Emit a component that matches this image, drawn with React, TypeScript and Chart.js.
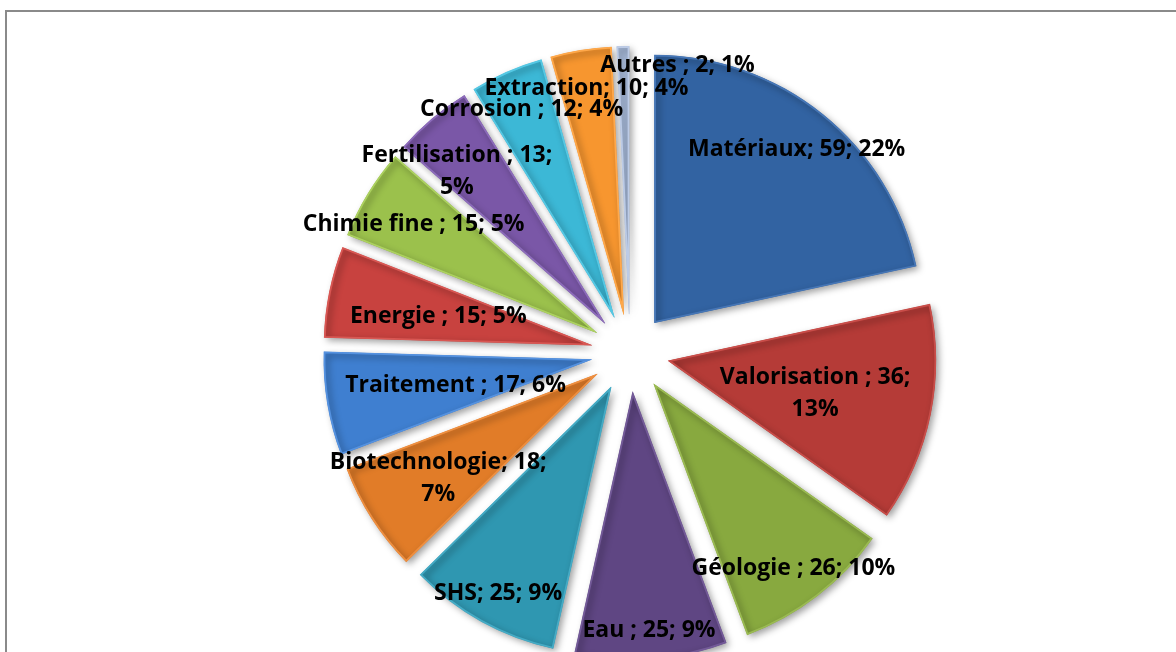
import React, { useEffect, useRef } from "react";
import { Chart, registerables } from "chart.js";

Chart.register(...registerables);

const categories = [
  "Matériaux",
  "Valorisation ",
  "Géologie ",
  "Eau ",
  "SHS",
  "Biotechnologie",
  "Traitement ",
  "Energie ",
  "Chimie fine ",
  "Fertilisation ",
  "Corrosion ",
  "Extraction",
  "Autres ",
];
const values = [59, 36, 26, 25, 25, 18, 17, 15, 15, 13, 12, 10, 2];
const percentLabels = ["22%", "13%", "10%", "9%", "9%", "7%", "6%", "5%", "5%", "5%", "4%", "4%", "1%"];
const wrapAfterValue = [false, true, false, false, false, true, false, false, false, true, false, false, false];

const colors = [
  "#3263a2",
  "#b53b37",
  "#88a93f",
  "#5f4683",
  "#2f97b1",
  "#e17c28",
  "#3f7fd0",
  "#c8423f",
  "#9bc14c",
  "#7a57a7",
  "#3cb8d6",
  "#f7962f",
  "#a9bcdc",
];
const bevelColors = [
  "#4676b6",
  "#c94d49",
  "#9aba52",
  "#735a98",
  "#45abc5",
  "#ee8f40",
  "#5592e0",
  "#d95753",
  "#acd160",
  "#8c6bba",
  "#55c8e4",
  "#ffa84a",
  "#bccbe6",
];

// label placement: distance from pie centre (fraction of radius) and angular shift (deg)
const labelDist = [0.99, 0.705, 1.0, 1.025, 1.015, 0.85, 0.66, 0.73, 0.945, 0.945, 1.005, 1.01, 1.1];
const labelShift = [0, 0, 0, 0, 0, 0, 0, 0, 0, -2.9, 0, 0, 10.6];

const RADIUS = 268;
const EXPLODE = 39;
const TEXT_DY = 3;
const FONT = "bold 23px 'Open Sans', 'Noto Sans', sans-serif";

const explodePlugin = {
  id: "explodeSlices",
  afterDatasetUpdate(chart: any) {
    const meta = chart.getDatasetMeta(0);
    meta.data.forEach((arc: any) => {
      const mid = (arc.startAngle + arc.endAngle) / 2;
      arc.x += Math.cos(mid) * EXPLODE;
      arc.y += Math.sin(mid) * EXPLODE;
    });
  },
  beforeDatasetsDraw(chart: any) {
    const ctx = chart.ctx;
    ctx.save();
    ctx.shadowColor = "rgba(0,0,0,0.38)";
    ctx.shadowBlur = 7;
    ctx.shadowOffsetX = 3;
    ctx.shadowOffsetY = 3;
  },
  afterDatasetsDraw(chart: any) {
    const ctx = chart.ctx;
    ctx.restore();
    const meta = chart.getDatasetMeta(0);
    const area = chart.chartArea;
    const cx = (area.left + area.right) / 2;
    const cy = (area.top + area.bottom) / 2;
    ctx.save();
    ctx.font = FONT;
    ctx.fillStyle = "#000";
    ctx.textAlign = "center";
    ctx.textBaseline = "middle";
    meta.data.forEach((arc: any, i: number) => {
      const mid = (arc.startAngle + arc.endAngle) / 2 + (labelShift[i] * Math.PI) / 180;
      const d = labelDist[i] * RADIUS;
      const x = cx + Math.cos(mid) * d;
      const y = cy + Math.sin(mid) * d + TEXT_DY;
      const first = `${categories[i]}; ${values[i]};`;
      if (wrapAfterValue[i]) {
        ctx.fillText(first, x, y - 16);
        ctx.fillText(percentLabels[i], x, y + 16);
      } else {
        ctx.fillText(`${first} ${percentLabels[i]}`, x, y);
      }
    });
    ctx.restore();
  },
};

export default function App() {
  const ref = useRef<HTMLCanvasElement | null>(null);
  useEffect(() => {
    if (!ref.current) return;
    const chart = new Chart(ref.current, {
      type: "pie",
      data: {
        labels: categories,
        datasets: [
          {
            data: values,
            backgroundColor: colors,
            borderColor: bevelColors,
            borderWidth: 1.5,
            borderAlign: "inner",
            radius: RADIUS,
            clip: false,
          } as any,
        ],
      },
      options: {
        responsive: false,
        animation: false,
        layout: { padding: { left: 84, right: 0, top: 54, bottom: 0 } },
        plugins: { legend: { display: false }, tooltip: { enabled: false } },
      },
      plugins: [explodePlugin],
    });
    return () => chart.destroy();
  }, []);
  return (
    <div
      style={{
        position: "fixed",
        left: 0,
        top: 0,
        width: 1176,
        height: 652,
        overflow: "hidden",
        background: "#fff",
      }}
    >
      <div
        style={{
          position: "absolute",
          left: 5,
          top: 10,
          width: 1400,
          height: 900,
          border: "2px solid #8a8a8a",
        }}
      />
      <canvas ref={ref} width={1176} height={652} style={{ position: "absolute", left: 0, top: 0 }} />
    </div>
  );
}
